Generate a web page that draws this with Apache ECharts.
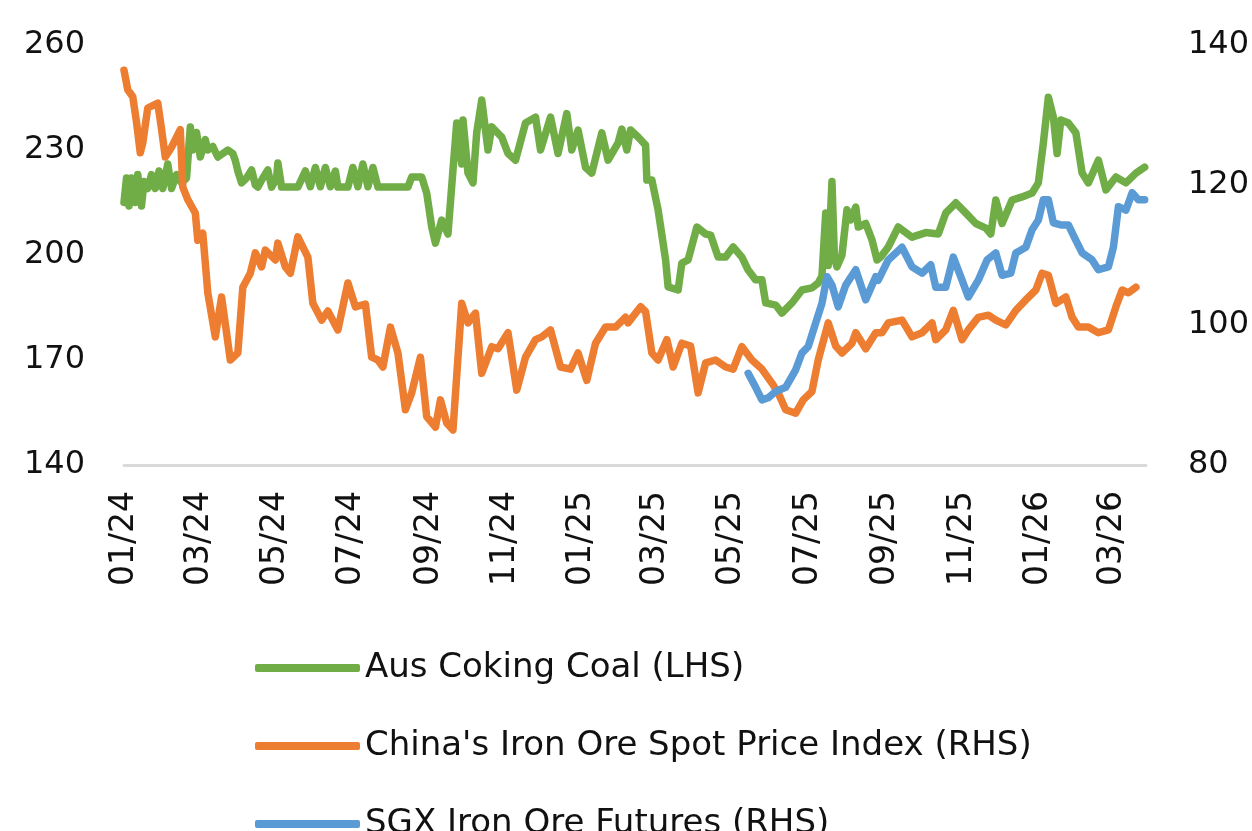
<!DOCTYPE html>
<html>
<head>
<meta charset="utf-8">
<title>Coking coal vs iron ore</title>
<script src="https://cdn.jsdelivr.net/npm/echarts@6/dist/echarts.min.js"></script>
<style>
  html, body { margin: 0; padding: 0; background: #fff; }
  #main { width: 1252px; height: 831px; }
</style>
</head>
<body>
<div id="main"></div>
<script>
// Aus coking coal (LHS)
const coalDates = [
  '2024-01-01','2024-01-03','2024-01-05','2024-01-07','2024-01-10','2024-01-12','2024-01-15','2024-01-17',
  '2024-01-20','2024-01-23','2024-01-26','2024-01-29','2024-02-01','2024-02-05','2024-02-08','2024-02-12',
  '2024-02-16','2024-02-20','2024-02-23','2024-02-25','2024-02-28','2024-03-02','2024-03-06','2024-03-08',
  '2024-03-12','2024-03-16','2024-03-20','2024-03-24','2024-03-28','2024-03-30','2024-04-01','2024-04-04',
  '2024-04-08','2024-04-12','2024-04-15','2024-04-17','2024-04-21','2024-04-25','2024-04-28','2024-05-02',
  '2024-05-03','2024-05-06','2024-05-19','2024-05-25','2024-05-29','2024-06-02','2024-06-06','2024-06-10',
  '2024-06-14','2024-06-18','2024-06-20','2024-06-28','2024-07-02','2024-07-06','2024-07-10','2024-07-14',
  '2024-07-18','2024-07-22','2024-08-15','2024-08-18','2024-08-26','2024-08-30','2024-09-03','2024-09-06',
  '2024-09-11','2024-09-16','2024-09-20','2024-09-23','2024-09-27','2024-09-28','2024-10-02','2024-10-06',
  '2024-10-09','2024-10-13','2024-10-18','2024-10-21','2024-10-29','2024-11-03','2024-11-09','2024-11-17',
  '2024-11-25','2024-11-29','2024-12-07','2024-12-13','2024-12-20','2024-12-24','2024-12-29','2025-01-04',
  '2025-01-09','2025-01-17','2025-01-22','2025-01-30','2025-02-02','2025-02-06','2025-02-09','2025-02-15',
  '2025-02-21','2025-02-22','2025-02-26','2025-03-03','2025-03-09','2025-03-11','2025-03-19','2025-03-22',
  '2025-03-27','2025-04-03','2025-04-10','2025-04-14','2025-04-20','2025-04-26','2025-05-02','2025-05-09',
  '2025-05-14','2025-05-20','2025-05-25','2025-05-28','2025-06-05','2025-06-10','2025-06-18','2025-06-26',
  '2025-07-04','2025-07-09','2025-07-12','2025-07-15','2025-07-17','2025-07-20','2025-07-22','2025-07-24',
  '2025-07-28','2025-08-01','2025-08-04','2025-08-08','2025-08-10','2025-08-16','2025-08-21','2025-08-25',
  '2025-08-28','2025-09-03','2025-09-11','2025-09-22','2025-10-03','2025-10-13','2025-10-19','2025-10-27',
  '2025-11-04','2025-11-12','2025-11-20','2025-11-24','2025-11-28','2025-12-03','2025-12-11','2025-12-19',
  '2025-12-27','2026-01-01','2026-01-05','2026-01-09','2026-01-13','2026-01-16','2026-01-19','2026-01-25',
  '2026-01-31','2026-02-05','2026-02-10','2026-02-18','2026-02-24','2026-03-04','2026-03-12','2026-03-20',
  '2026-03-27'
];
const coalValues = [
  215, 222, 214, 222, 215, 223, 214, 221,
  219, 223, 219, 224, 219, 226, 219, 223,
  220.6, 222, 236.6, 230, 235, 228, 233, 230,
  231, 228, 229, 230, 229, 227, 224, 220.6,
  222, 224.3, 220, 219.4, 222, 224.3, 219.4, 222,
  226.3, 219.4, 219.4, 224, 219.5, 225, 219.5, 225,
  219.5, 224, 219.4, 219.4, 225, 219.5, 226, 219.5,
  225, 219.4, 219.4, 222.3, 222.3, 217.7, 208, 203.4,
  210, 206, 224.3, 237.7, 226, 238.6, 223.4, 220.6,
  235, 244.3, 230, 236.6, 233.7, 229, 227.1, 237.7,
  239.4, 230, 239.4, 229, 240.4, 230, 235.7, 225,
  223.4, 234.9, 227.1, 232, 236, 230, 235.7, 233.7,
  231.4, 221.4, 221.4, 212.9, 198.6, 190.9, 190, 197.7,
  198.6, 208, 206, 205.7, 199.4, 199.4, 202.3, 199.4,
  195.7, 192.9, 192.9, 186.3, 185.7, 183.4, 186.3, 190,
  190.6, 192, 194, 212, 197, 221, 199, 196.6,
  200, 212.9, 210, 213.7, 208, 209, 204.3, 198.6,
  199.4, 202.3, 208, 205.1, 206.4, 206, 212, 214.9,
  212, 209, 207.7, 206, 215.7, 209, 215.7, 216.6,
  217.7, 220.6, 232, 245.1, 239.4, 229, 238.6, 237.7,
  234.9, 223.4, 220.6, 227.1, 218.6, 222.3, 220.6, 223.4,
  225.1
];

// China's iron ore spot price index (RHS)
const spotDates = [
  '2024-01-01','2024-01-04','2024-01-08','2024-01-11','2024-01-14','2024-01-16','2024-01-20','2024-01-28',
  '2024-01-31','2024-02-03','2024-02-08','2024-02-15','2024-02-17','2024-02-21','2024-02-27','2024-02-29',
  '2024-03-04','2024-03-08','2024-03-14','2024-03-19','2024-03-26','2024-04-01','2024-04-05','2024-04-11',
  '2024-04-15','2024-04-20','2024-04-23','2024-05-01','2024-05-03','2024-05-09','2024-05-13','2024-05-19',
  '2024-05-27','2024-05-31','2024-06-07','2024-06-12','2024-06-20','2024-06-28','2024-07-04','2024-07-12',
  '2024-07-17','2024-07-22','2024-07-26','2024-08-01','2024-08-07','2024-08-13','2024-08-18','2024-08-25',
  '2024-08-30','2024-09-06','2024-09-10','2024-09-15','2024-09-20','2024-09-27','2024-10-02','2024-10-08',
  '2024-10-13','2024-10-21','2024-10-26','2024-11-03','2024-11-10','2024-11-17','2024-11-25','2024-11-30',
  '2024-12-07','2024-12-15','2024-12-23','2024-12-29','2025-01-05','2025-01-12','2025-01-20','2025-01-28',
  '2025-02-05','2025-02-07','2025-02-17','2025-02-21','2025-02-26','2025-03-03','2025-03-10','2025-03-15',
  '2025-03-22','2025-03-29','2025-04-04','2025-04-10','2025-04-18','2025-04-26','2025-05-02','2025-05-09',
  '2025-05-17','2025-05-25','2025-06-02','2025-06-07','2025-06-13','2025-06-21','2025-06-27','2025-07-04',
  '2025-07-09','2025-07-17','2025-07-23','2025-07-28','2025-08-05','2025-08-08','2025-08-16','2025-08-24',
  '2025-08-29','2025-09-03','2025-09-14','2025-09-22','2025-09-30','2025-10-08','2025-10-11','2025-10-19',
  '2025-10-25','2025-11-01','2025-11-06','2025-11-14','2025-11-22','2025-11-28','2025-12-06','2025-12-14',
  '2025-12-22','2025-12-30','2026-01-04','2026-01-09','2026-01-15','2026-01-23','2026-01-28','2026-02-02',
  '2026-02-10','2026-02-18','2026-02-26','2026-03-04','2026-03-09','2026-03-14','2026-03-20'
];
const spotValues = [
  136.4, 133.6, 132.6, 129, 124.6, 126, 131, 131.7,
  128, 124, 125.4, 127.9, 119.7, 117.9, 116, 112.1,
  113.1, 104.6, 98.3, 104, 95, 96, 105.4, 107.4,
  110.3, 108.3, 110.7, 109.3, 111.7, 108.3, 107.4, 112.6,
  109.7, 103.1, 100.7, 102, 99.3, 106, 102.6, 103,
  95.4, 95, 94, 99.7, 96, 87.9, 90.3, 95.4,
  86.9, 85.4, 89.3, 86, 85, 103.1, 100.3, 101.7,
  93.1, 96.9, 96.6, 98.9, 90.7, 95.4, 97.9, 98.3,
  99.3, 94, 93.7, 96, 92.1, 97.4, 99.7, 99.7,
  101.1, 100.3, 102.6, 101.9, 96, 95, 97.9, 94,
  97.4, 97, 90.3, 94.6, 95, 94, 93.7, 96.9,
  95, 93.7, 91.7, 90.3, 87.9, 87.4, 89.3, 90.5,
  95, 100.3, 97, 96, 97.4, 98.9, 96.6, 98.9,
  98.9, 100.3, 100.7, 98.3, 98.9, 100.3, 97.9, 99.3,
  102.1, 97.9, 99.3, 101.1, 101.4, 100.7, 100, 102.1,
  103.6, 105, 107.4, 107.1, 103.1, 104, 101.1, 99.7,
  99.7, 98.9, 99.3, 102.6, 105, 104.6, 105.4
];

// SGX iron ore futures (RHS)
const sgxDates = [
  '2025-05-14','2025-05-20','2025-05-25','2025-05-30','2025-06-05','2025-06-13','2025-06-21','2025-06-26',
  '2025-07-01','2025-07-07','2025-07-12','2025-07-16','2025-07-20','2025-07-25','2025-07-31','2025-08-08',
  '2025-08-16','2025-08-24','2025-08-26','2025-09-03','2025-09-14','2025-09-22','2025-09-30','2025-10-07',
  '2025-10-11','2025-10-19','2025-10-25','2025-11-01','2025-11-06','2025-11-14','2025-11-21','2025-11-28',
  '2025-12-03','2025-12-10','2025-12-14','2025-12-22','2025-12-27','2026-01-01','2026-01-05','2026-01-09',
  '2026-01-13','2026-01-19','2026-01-25','2026-01-31','2026-02-05','2026-02-13','2026-02-18','2026-02-26',
  '2026-03-02','2026-03-06','2026-03-12','2026-03-17','2026-03-22','2026-03-27'
];
const sgxValues = [
  93.1, 91.1, 89.3, 89.6, 90.5, 91.1, 93.6, 96,
  96.9, 100.3, 103.1, 106.9, 105.7, 102.6, 105.7, 107.9,
  103.6, 106.9, 106.4, 109.3, 111.1, 108.3, 107.4, 108.6,
  105.4, 105.4, 109.7, 106.4, 104, 106.4, 109.3, 110.3,
  107.1, 107.4, 110.3, 111.1, 113.6, 115, 117.9, 117.9,
  114.6, 114.3, 114.3, 112.1, 110.3, 109.3, 107.9, 108.3,
  111.1, 116.9, 116.4, 118.9, 117.9, 117.9
];

// x-axis labels every two months
const tickDates = [
  '2024-01-01','2024-03-01','2024-05-01','2024-07-01','2024-09-01','2024-11-01','2025-01-01',
  '2025-03-01','2025-05-01','2025-07-01','2025-09-01','2025-11-01','2026-01-01','2026-03-01'
];

const seriesNames = ['Aus Coking Coal (LHS)', "China's Iron Ore Spot Price Index (RHS)", 'SGX Iron Ore Futures (RHS)'];
const seriesColors = ['#70AD47', '#ED7D31', '#5B9BD5'];

const toTime = (s) => new Date(s + 'T00:00:00').getTime();
const pairs = (dates, values) => dates.map((d, i) => [toTime(d), values[i]]);

const FONT = 'DejaVu Sans';
const myChart = echarts.init(document.getElementById('main'));

// one legend per row, so the bottom row may run off the page like in the source
const legends = seriesNames.map((name, i) => ({
  orient: 'vertical',
  left: 250,
  top: 644 + i * 78,
  itemWidth: 105,
  itemHeight: 8,
  icon: 'roundRect',
  textStyle: { fontFamily: FONT, fontSize: 34, color: '#111', lineHeight: 38 },
  data: [name]
}));

const lineSeries = (i, yAxisIndex, data) => ({
  name: seriesNames[i],
  type: 'line',
  yAxisIndex: yAxisIndex,
  showSymbol: false,
  color: seriesColors[i],
  lineStyle: { width: 7.5, cap: 'round', join: 'round' },
  data: data
});

const option = {
  animation: false,
  backgroundColor: '#ffffff',
  grid: { left: 124, right: 105, top: 45, bottom: 366 },
  legend: legends,
  // dates as timestamps on a value axis, so the label positions can be fixed
  xAxis: {
    type: 'value',
    min: toTime('2024-01-01'),
    max: toTime('2026-03-28'),
    splitLine: { show: false },
    axisTick: { show: false },
    axisLine: { lineStyle: { color: '#d9d9d9', width: 3 } },
    axisLabel: {
      customValues: tickDates.map(toTime),
      rotate: 90,
      margin: 26,
      fontFamily: FONT,
      fontSize: 33,
      color: '#111',
      formatter: function (v) {
        const d = new Date(v);
        return ('0' + (d.getMonth() + 1)).slice(-2) + '/' + String(d.getFullYear()).slice(2);
      }
    }
  },
  yAxis: [
    {
      type: 'value',
      min: 140,
      max: 260,
      interval: 30,
      position: 'left',
      splitLine: { show: false },
      axisLine: { show: false },
      axisTick: { show: false },
      axisLabel: { margin: 39, fontFamily: FONT, fontSize: 32, color: '#111' }
    },
    {
      type: 'value',
      min: 80,
      max: 140,
      interval: 20,
      position: 'right',
      splitLine: { show: false },
      axisLine: { show: false },
      axisTick: { show: false },
      axisLabel: { margin: 42, fontFamily: FONT, fontSize: 32, color: '#111' }
    }
  ],
  series: [
    lineSeries(0, 0, pairs(coalDates, coalValues)),
    lineSeries(1, 1, pairs(spotDates, spotValues)),
    lineSeries(2, 1, pairs(sgxDates, sgxValues))
  ]
};

myChart.setOption(option);
</script>
</body>
</html>
